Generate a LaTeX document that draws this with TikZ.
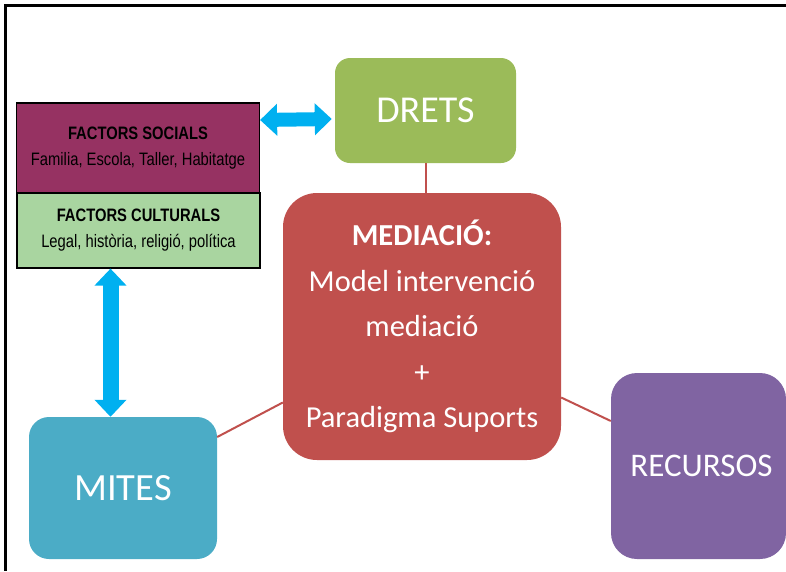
\documentclass[tikz,border=0pt]{standalone}
\usepackage{fontspec}
\setmainfont{Carlito}
\newfontfamily\narrowfont{Liberation Sans}[FakeStretch=0.82]
\usetikzlibrary{arrows.meta}

\definecolor{dretsgreen}{HTML}{9BBB59}
\definecolor{mediared}{HTML}{C0504D}
\definecolor{mitesblue}{HTML}{4BACC6}
\definecolor{recursospurple}{HTML}{8064A2}
\definecolor{socialred}{HTML}{963262}
\definecolor{culturalgreen}{HTML}{A9D5A0}
\definecolor{arrowblue}{HTML}{00B0F0}

\begin{document}
\begin{tikzpicture}[x=1pt, y=-1pt,
    box/.style={rectangle, text=white, align=center, inner sep=0pt},
    factor/.style={rectangle, draw=black, line width=1.2pt, align=center, inner sep=0pt,
      minimum width=243pt, font=\narrowfont\fontsize{18}{26}\selectfont},
    link/.style={draw=mediared, line width=2pt},
    twoway/.style={draw=arrowblue, line width=14pt,
      {Triangle[width=31pt,length=17pt]}-{Triangle[width=31pt,length=17pt]}}]
  \useasboundingbox (0,0) rectangle (786,571);

  \draw[line width=3pt] (786,5) -- (5,5) -- (5,571);

  \node[box, fill=dretsgreen, rounded corners=15pt, minimum width=181pt, minimum height=105pt,
    font=\fontsize{38}{40}\selectfont] (drets) at (425.5,110.5) {DRETS};
  \node[box, fill=mediared, rounded corners=34pt, minimum width=278pt, minimum height=267pt,
    font=\fontsize{30.5}{45.5}\selectfont] (med) at (422,326.5)
    {\textbf{MEDIACIÓ:}\\Model intervenció\\mediació\\+\\Paradigma Suports};
  \node[box, fill=mitesblue, rounded corners=20pt, minimum width=188pt, minimum height=142pt,
    font=\fontsize{38.5}{40}\selectfont] (mites) at (123,488) {MITES};
  \node[box, fill=recursospurple, rounded corners=26pt, minimum width=175pt, minimum height=186pt,
    font=\fontsize{33}{36}\selectfont, text depth=0pt] (recursos) at (698.5,466) {\hspace*{6pt}RECURSOS};

  \node[factor, fill=socialred, minimum height=90pt] (socials) at (138,148)
    {\textbf{FACTORS SOCIALS}\\Familia, Escola, Taller, Habitatge};
  \node[factor, fill=culturalgreen, minimum height=75pt] (culturals) at (138.5,230.5)
    {\textbf{FACTORS CULTURALS}\\Legal, història, religió, política};

  \draw[link] (drets.south) -- (drets.south |- med.north);
  \draw[link] ([yshift=-76pt]med.west) -- ([yshift=51pt]mites.east);
  \draw[link] ([yshift=-71pt]med.east) -- ([yshift=45pt]recursos.west);

  \draw[twoway] ([yshift=28pt]socials.east) -- ([xshift=-3pt,yshift=-8.5pt]drets.west);
  \draw[twoway, line width=16pt] ([xshift=-28pt]culturals.south) -- ([xshift=-28pt]culturals.south |- mites.north);
\end{tikzpicture}
\end{document}
